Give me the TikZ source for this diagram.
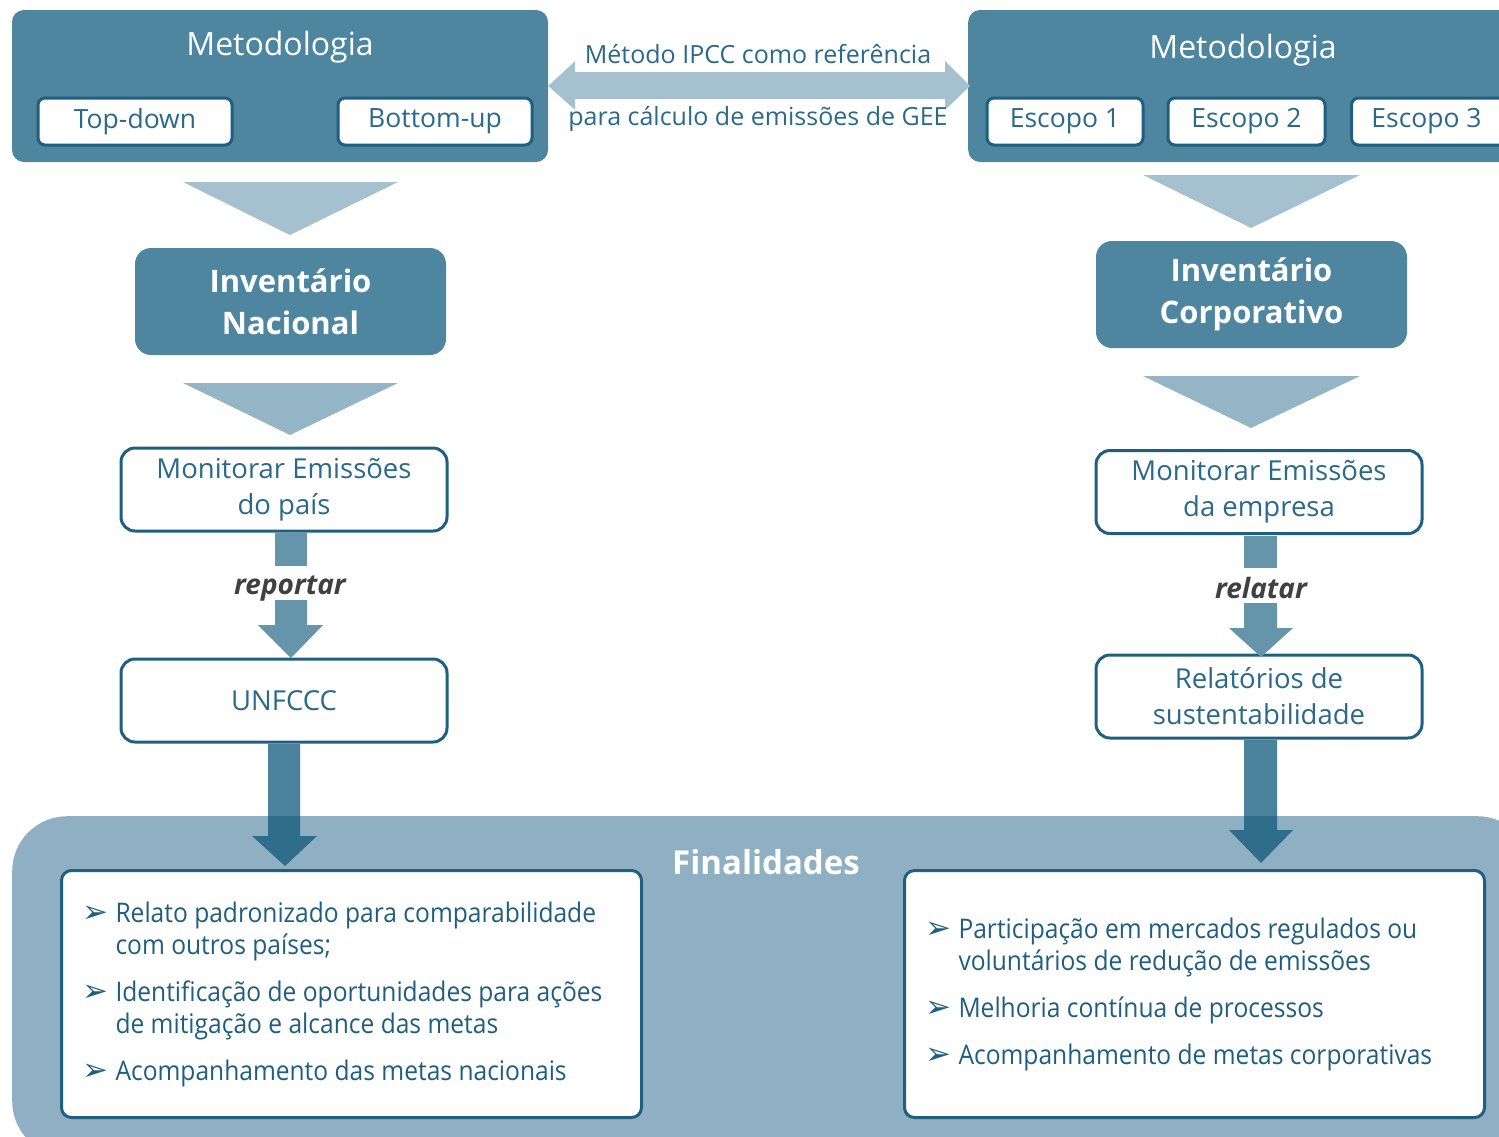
\documentclass[tikz,border=0pt]{standalone}
\usepackage{fontspec}
\setmainfont{Open Sans}
\newfontfamily\narrowfont{Open Sans}[FakeStretch=0.91]
\newfontfamily\symfont{DejaVu Sans}
\usetikzlibrary{calc}

\definecolor{boxblue}{HTML}{4E86A0}
\definecolor{chevA}{HTML}{A5C1CF}
\definecolor{chevB}{HTML}{94B5C6}
\definecolor{edgeblue}{HTML}{1F5F7F}
\definecolor{txtblue}{HTML}{2A698A}
\definecolor{listblue}{HTML}{1F5E80}
\definecolor{flowblue}{HTML}{6595AB}
\definecolor{bigflow}{HTML}{0F5879}
\definecolor{finbg}{HTML}{8EB0C2}
\definecolor{verbgray}{HTML}{404040}

\tikzset{
  panel/.style={fill=boxblue, draw=none, rounded corners=12pt, inner sep=0pt},
  optbox/.style={fill=white, draw=edgeblue, line width=3pt, rounded corners=7pt,
    inner sep=0pt, minimum height=47pt, text=txtblue,
    font=\fontsize{26.5}{30}\selectfont},
  invbox/.style={fill=boxblue, draw=none, rounded corners=16pt, inner sep=0pt,
    minimum width=311pt, minimum height=107pt, text=white, align=center,
    font=\bfseries\fontsize{31}{42}\selectfont},
  stagebox/.style={fill=white, draw=edgeblue, line width=3pt, rounded corners=14pt,
    inner sep=0pt, minimum width=326pt, minimum height=83pt, text=txtblue,
    align=center, font=\fontsize{27.5}{36}\selectfont},
  listbox/.style={fill=white, draw=edgeblue, line width=3pt, rounded corners=10pt,
    inner sep=0pt, minimum width=580pt, minimum height=247pt},
  title/.style={text=white, anchor=base, font=\fontsize{32}{36}\selectfont},
  verb/.style={text=verbgray, font=\bfseries\itshape\fontsize{28}{30}\selectfont},
  item/.style={anchor=west, text=listblue, align=left,
    font=\narrowfont\fontsize{27}{32}\selectfont},
  bullet/.style={anchor=west, text=listblue, font=\symfont\fontsize{31}{34}\selectfont},
  chevA/.style={fill=chevA, draw=none},
  chevB/.style={fill=chevB, draw=none},
  flow/.style={fill=flowblue, draw=none},
  bigarrow/.style={fill=bigflow, fill opacity=0.75, draw=none},
}

\begin{document}
\begin{tikzpicture}[x=1pt, y=-1pt]
\useasboundingbox (0,0) rectangle (1499,1136);
\clip (0,0) rectangle (1499,1136);

% ---------- Finalidades background ----------
\node[fill=finbg, rounded corners=55pt, minimum width=1520pt, minimum height=340pt,
      inner sep=0pt, anchor=north west] (finbg) at (12,816) {};
\node[text=white, font=\bfseries\fontsize{33}{36}\selectfont] (fintitle) at (766,862) {Finalidades};

% ---------- Methodology panels ----------
\node[panel, minimum width=536pt, minimum height=152pt] (metL) at (280,86) {};
\node[title] (metLt) at (280,55) {Metodologia};
\node[optbox, minimum width=194pt] (topdown) at (135,121.5) {Top-down};
\node[optbox, minimum width=194pt] (bottomup) at (435,121.5) {Bottom-up};

\node[panel, minimum width=560pt, minimum height=152pt, anchor=west] (metR) at (968,86) {};
\node[title] (metRt) at (1243,58) {Metodologia};
\node[optbox, minimum width=156pt] (esc1) at (1065,121.5) {Escopo 1};
\node[optbox, minimum width=157pt] (esc2) at (1246.5,121.5) {Escopo 2};
\node[optbox, minimum width=160pt, anchor=west] (esc3) at (1350,121.5) {\hspace*{-5pt}Escopo 3\hspace*{5pt}};

% ---------- IPCC double arrow ----------
\fill[chevA] (metL.east) -- ($(metL.east)+(27,-25)$) -- ($(metL.east)+(27,-14)$)
  -- ($(metR.west)+(-23,-14)$) -- ($(metR.west)+(-23,-25)$) -- ($(metR.west)+(2,0)$)
  -- ($(metR.west)+(-23,24)$) -- ($(metR.west)+(-23,13)$)
  -- ($(metL.east)+(27,13)$) -- ($(metL.east)+(27,24)$) -- cycle;
\node[text=txtblue, font=\fontsize{25}{28}\selectfont] (ipcc1) at (758,54) {Método IPCC como referência};
\node[text=txtblue, font=\fontsize{25}{28}\selectfont] (ipcc2) at (758,119) {para cálculo de emissões de GEE};

% ---------- Inventory boxes ----------
\node[invbox] (invN) at (290.5,301.5) {Inventário\\Nacional};
\node[invbox] (invC) at (1251.5,294.5) {Inventário\\Corporativo};

% chevrons
\fill[chevA] (183,182) -- (398,182) -- (290,235) -- cycle;
\fill[chevB] (183,383) -- (398,383) -- (290,435) -- cycle;
\fill[chevA] (1143,175) -- (1360,175) -- (1251,228) -- cycle;
\fill[chevB] (1143,376) -- (1360,376) -- (1251,428) -- cycle;

% ---------- National column ----------
\node[stagebox] (monN) at (284,489.5) {Monitorar Emissões\\do país};
\node[stagebox] (unf) at (284,700.5) {UNFCCC};
\node[verb] (rep) at (290,589) {reportar};
\fill[flow] (275,533) rectangle (307,566);
\fill[flow] (275,600) -- (307,600) -- (307,625) -- (323,625) -- (291,658)
  -- (258,625) -- (275,625) -- cycle;

% ---------- Corporate column ----------
\node[stagebox] (monC) at (1259,492) {Monitorar Emissões\\da empresa};
\node[stagebox] (rel) at (1259,696.5) {Relatórios de\\sustentabilidade};
\node[verb] (rlt) at (1261,588) {relatar};
\fill[flow] (1244,536) rectangle (1277,568);
\fill[flow] (1244,603) -- (1277,603) -- (1277,628) -- (1293,628) -- (1261,657)
  -- (1229,628) -- (1244,628) -- cycle;

% ---------- Big arrows into Finalidades ----------
\fill[bigarrow] (268,744) -- (300,744) -- (300,836) -- (317,836) -- (285,866)
  -- (252,836) -- (268,836) -- cycle;
\fill[bigarrow] (1244,740) -- (1277,740) -- (1277,830) -- (1293,830) -- (1261,863)
  -- (1229,830) -- (1244,830) -- cycle;

% ---------- Purpose lists ----------
\node[listbox, anchor=north west] (listN) at (60,869) {};
\node[bullet] at (79,914) {➢};
\node[item] (n1) at (112,931) {Relato padronizado para comparabilidade\\com outros países;};
\node[bullet] at (79,993) {➢};
\node[item] (n2) at (112,1010) {Identificação de oportunidades para ações\\de mitigação e alcance das metas};
\node[bullet] at (79,1072) {➢};
\node[item] (n3) at (112,1073) {Acompanhamento das metas nacionais};

\node[listbox, anchor=north west] (listC) at (903,869) {};
\node[bullet] at (922,930) {➢};
\node[item] (c1) at (955,947) {Participação em mercados regulados ou\\voluntários de redução de emissões};
\node[bullet] at (922,1009) {➢};
\node[item] (c2) at (955,1010) {Melhoria contínua de processos};
\node[bullet] at (922,1056) {➢};
\node[item] (c3) at (955,1057) {Acompanhamento de metas corporativas};
\end{tikzpicture}
\end{document}
